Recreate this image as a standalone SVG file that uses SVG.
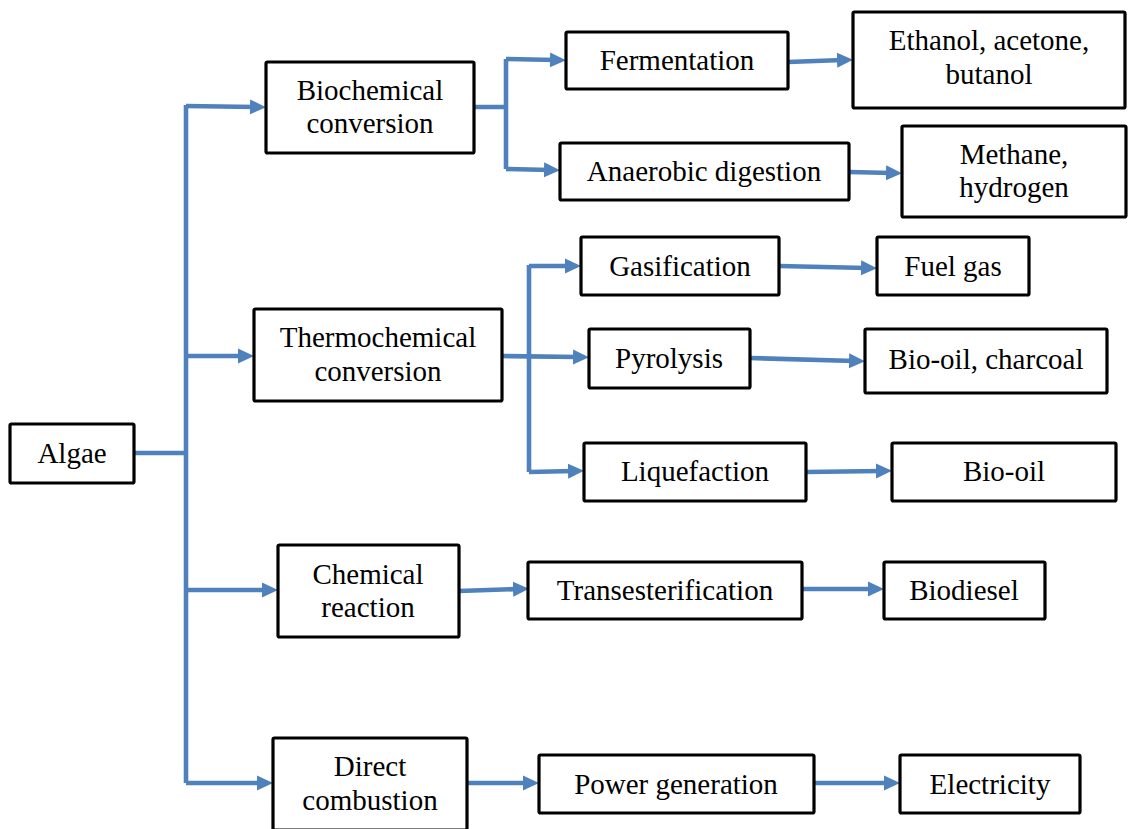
<svg xmlns="http://www.w3.org/2000/svg" width="1128" height="829" viewBox="0 0 1128 829">
<style>
.box{fill:#fff;stroke:#000;stroke-width:3.2;stroke-linejoin:round}
.t{font-family:"Liberation Serif","Times New Roman",serif;font-size:29px;fill:#000;text-anchor:middle}
.c{fill:none;stroke:#4F81BD;stroke-width:4.6;stroke-linejoin:miter}
.ca{fill:none;stroke:#4F81BD;stroke-width:4.6;marker-end:url(#ah)}
</style>
<defs>
<marker id="ah" viewBox="0 0 16 16" refX="6" refY="8" markerWidth="16" markerHeight="16" markerUnits="userSpaceOnUse" orient="auto">
<path d="M0,0.5 L16,8 L0,15.5 Z" fill="#4F81BD"/>
</marker>
</defs>
<rect width="1128" height="829" fill="#fff"/>
<g id="connectors">
<path class="c" d="M134,453 L186,453 M186,105 L186,783"/>
<path class="ca" d="M186,106 L256,107"/>
<path class="ca" d="M186,356 L244,356"/>
<path class="ca" d="M186,590 L268,590"/>
<path class="ca" d="M186,783 L263,783"/>
<path class="c" d="M474,107 L506,107 M506,59 L506,169"/>
<path class="ca" d="M506,59 L556,60"/>
<path class="ca" d="M506,169 L550,170"/>
<path class="ca" d="M788,62 L843,60"/>
<path class="ca" d="M849,172 L892,173"/>
<path class="c" d="M529,265 L529,472"/>
<path class="ca" d="M529,266 L571,266"/>
<path class="ca" d="M502,356 L579,357"/>
<path class="ca" d="M529,472 L574,471"/>
<path class="ca" d="M779,266 L867,268"/>
<path class="ca" d="M750,358 L855,361"/>
<path class="ca" d="M806,472 L882,471"/>
<path class="ca" d="M459,591 L519,589"/>
<path class="ca" d="M802,589 L874,589"/>
<path class="ca" d="M467,783 L529,783"/>
<path class="ca" d="M814,783 L890,783"/>
</g>
<g id="algae"><rect class="box" x="10" y="424" width="124" height="59" rx="1.5"/><text class="t" x="72" y="463">Algae</text></g>
<g id="biochemical"><rect class="box" x="266" y="62" width="208" height="91" rx="1.5"/><text class="t" x="370" y="100">Biochemical</text><text class="t" x="370" y="133">conversion</text></g>
<g id="fermentation"><rect class="box" x="566" y="32" width="222" height="57" rx="1.5"/><text class="t" x="677" y="70">Fermentation</text></g>
<g id="ethanol"><rect class="box" x="853" y="12" width="272" height="96" rx="1.5"/><text class="t" x="989" y="50">Ethanol, acetone,</text><text class="t" x="989" y="84">butanol</text></g>
<g id="anaerobic"><rect class="box" x="560" y="143" width="289" height="57" rx="1.5"/><text class="t" x="704" y="181">Anaerobic digestion</text></g>
<g id="methane"><rect class="box" x="902" y="126" width="224" height="91" rx="1.5"/><text class="t" x="1014" y="164">Methane,</text><text class="t" x="1014" y="197">hydrogen</text></g>
<g id="thermochemical"><rect class="box" x="254" y="309" width="248" height="92" rx="1.5"/><text class="t" x="378" y="347">Thermochemical</text><text class="t" x="378" y="381">conversion</text></g>
<g id="gasification"><rect class="box" x="581" y="237" width="198" height="58" rx="1.5"/><text class="t" x="680" y="276">Gasification</text></g>
<g id="fuelgas"><rect class="box" x="877" y="237" width="152" height="58" rx="1.5"/><text class="t" x="953" y="276">Fuel gas</text></g>
<g id="pyrolysis"><rect class="box" x="589" y="329" width="161" height="59" rx="1.5"/><text class="t" x="669" y="368">Pyrolysis</text></g>
<g id="biooilcharcoal"><rect class="box" x="865" y="329" width="242" height="64" rx="1.5"/><text class="t" x="986" y="369">Bio-oil, charcoal</text></g>
<g id="liquefaction"><rect class="box" x="584" y="443" width="222" height="58" rx="1.5"/><text class="t" x="695" y="481">Liquefaction</text></g>
<g id="biooil"><rect class="box" x="892" y="443" width="224" height="58" rx="1.5"/><text class="t" x="1004" y="481">Bio-oil</text></g>
<g id="chemical"><rect class="box" x="278" y="545" width="181" height="92" rx="1.5"/><text class="t" x="368" y="584">Chemical</text><text class="t" x="368" y="617">reaction</text></g>
<g id="transesterification"><rect class="box" x="528" y="562" width="274" height="57" rx="1.5"/><text class="t" x="665" y="600">Transesterification</text></g>
<g id="biodiesel"><rect class="box" x="884" y="562" width="161" height="57" rx="1.5"/><text class="t" x="964" y="600">Biodiesel</text></g>
<g id="direct"><rect class="box" x="273" y="738" width="194" height="92" rx="1.5"/><text class="t" x="370" y="776">Direct</text><text class="t" x="370" y="810">combustion</text></g>
<g id="power"><rect class="box" x="539" y="755" width="275" height="58" rx="1.5"/><text class="t" x="676" y="794">Power generation</text></g>
<g id="electricity"><rect class="box" x="900" y="755" width="180" height="58" rx="1.5"/><text class="t" x="990" y="794">Electricity</text></g>
</svg>
